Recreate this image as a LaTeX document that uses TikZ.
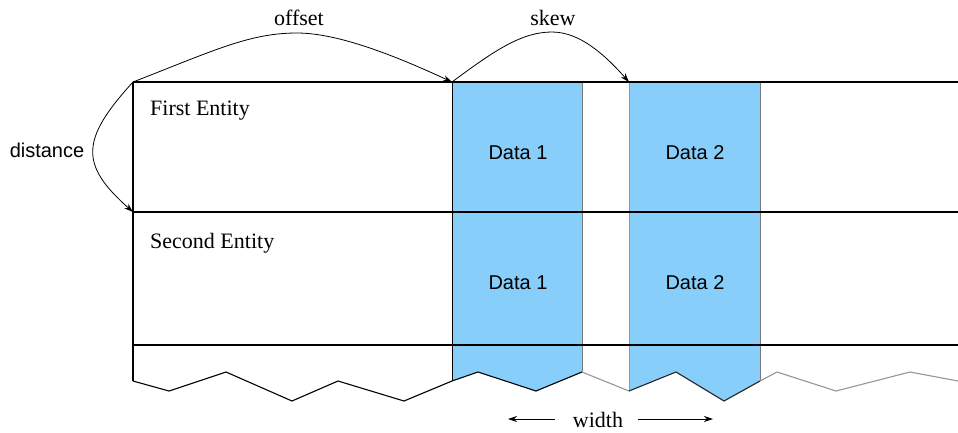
\documentclass[tikz,border=0pt]{standalone}
\usepackage{fontspec}
\setmainfont{Liberation Serif}
\newfontfamily\arialish{Liberation Sans}
\usetikzlibrary{arrows.meta}
\definecolor{datablue}{RGB}{135,206,250}
\definecolor{edgegray}{RGB}{120,120,120}
\definecolor{lightedge}{RGB}{150,150,150}
\tikzset{
  serif/.style={font=\fontsize{22}{25}\selectfont, inner sep=0pt},
  sans/.style={font=\arialish\fontsize{20}{23}\selectfont, inner sep=0pt},
  rule/.style={line width=1.3pt, black},
  arc/.style={line width=0.8pt, black, -{Stealth[length=9pt,width=6pt]}},
  zig/.style={line width=1.1pt, line join=miter},
}
\begin{document}
\begin{tikzpicture}[x=1pt,y=-1pt]
\useasboundingbox (0,0) rectangle (958,432);
% blue columns
\fill[datablue] (452,82) -- (582,82) -- (582,372) -- (536,391) -- (478,372) -- (452,381) -- cycle;
\fill[datablue] (629,82) -- (760,82) -- (760,381) -- (724,401) -- (676,372) -- (629,391) -- cycle;
\draw[line width=1pt, black] (452,82) -- (452,381);
\draw[line width=1pt, edgegray] (582,82) -- (582,372);
\draw[line width=1pt, lightedge] (629,82) -- (629,391);
\draw[line width=1pt, edgegray] (760,82) -- (760,381);
% coordinates
\coordinate (tl) at (133,82);
\coordinate (ml) at (133,212);
\coordinate (d1) at (452,82);
\coordinate (d2) at (629,82);
\coordinate (offpeak) at (297,33);
\coordinate (skewpeak) at (552,32);
% horizontal rules
\draw[rule] (tl) -- (958,82);
\draw[rule] (ml) -- (958,212);
\draw[rule] (133,345) -- (958,345);
\draw[rule] (tl) -- (133,381);
% zigzag
\draw[zig, black] (133,381) -- (169,391) -- (226,372) -- (292,401) -- (338,381) -- (404,401) -- (452,381) -- (478,372) -- (536,391) -- (582,372);
\draw[zig, lightedge] (582,372) -- (629,391);
\draw[zig, black!85] (629,391) -- (676,372) -- (724,401) -- (760,381);
\draw[zig, lightedge] (760,381) -- (777,372) -- (836,391) -- (910,372) -- (958,381);
% texts
\node[serif, anchor=west] (first) at (150,111) {First Entity};
\node[serif, anchor=west] (second) at (150,243) {Second Entity};
\node[sans] (da1) at (518,153) {Data 1};
\node[sans] (db1) at (518,283) {Data 1};
\node[sans] (da2) at (695,153) {Data 2};
\node[sans] (db2) at (695,283) {Data 2};
\node[serif] (offset) at (299,18) {offset};
\node[serif] (skew) at (553,18) {skew};
\node[sans] (distance) at (47,150) {distance};
\node[serif] (width) at (598,420) {width};
% arcs
\draw[arc] (tl) .. controls (215,50) and (250,33) .. (offpeak) .. controls (340,33) and (400,58) .. (d1);
\draw[arc] (d1) .. controls (495,50) and (522,32) .. (skewpeak) .. controls (580,32) and (605,55) .. (d2);
\draw[arc] (tl) .. controls (80,140) and (80,165) .. (ml);
% width arrows
\coordinate (wl) at (508,419);
\coordinate (wr) at (713,419);
\draw[line width=0.9pt, -{Stealth[length=9pt,width=6pt]}] ([xshift=-18pt]width.west |- wl) -- (wl);
\draw[line width=0.9pt, -{Stealth[length=9pt,width=6pt]}] ([xshift=15pt]width.east |- wr) -- (wr);
\end{tikzpicture}
\end{document}
